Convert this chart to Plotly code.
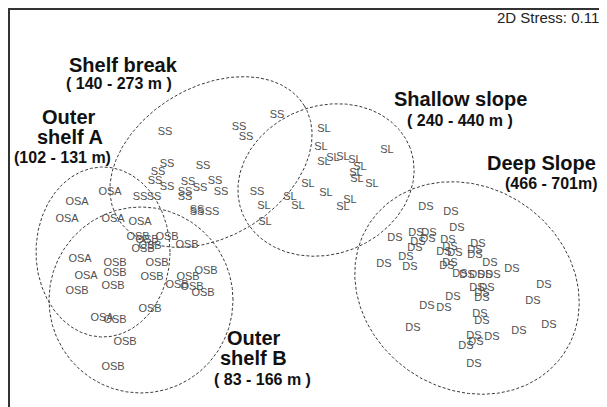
import numpy as np
import plotly.graph_objects as go

# ---- sample positions (NMDS ordination) ----
osa_x = [110, 77, 67, 113, 140, 80, 86, 102]
osa_y = [192, 202, 219, 219, 222, 259, 276, 318]

osb_x = [138, 147, 150, 143, 167, 187, 115, 115, 113, 77, 157, 152, 150, 115, 125, 113, 206, 188, 177, 192, 203]
osb_y = [237, 240, 246, 249, 237, 245, 263, 273, 286, 291, 263, 277, 309, 320, 342, 367, 271, 277, 285, 287, 293]

ss_x = [165, 239, 246, 277, 167, 158, 155, 167, 203, 188, 200, 185, 185, 215, 221, 140, 154, 197, 197, 212, 257]
ss_y = [132, 127, 137, 115, 164, 172, 181, 187, 166, 182, 188, 192, 197, 181, 192, 197, 197, 210, 212, 212, 192]

sl_x = [324, 321, 324, 333, 343, 355, 360, 356, 357, 372, 387, 308, 326, 290, 298, 350, 343, 264, 265]
sl_y = [129, 147, 162, 158, 157, 160, 167, 173, 179, 184, 150, 184, 193, 197, 206, 200, 207, 206, 222]

ds_x = [426, 451, 457, 395, 416, 429, 418, 428, 415, 406, 410, 384, 448, 450, 444, 455, 478, 475, 475, 490,
        512, 450, 447, 460, 467, 477, 485, 493, 477, 487, 482, 482, 453, 427, 444, 544, 533, 480, 482, 413,
        519, 549, 474, 476, 492, 466, 474]
ds_y = [207, 212, 228, 238, 233, 233, 242, 239, 248, 257, 267, 264, 240, 247, 252, 253, 244, 250, 255, 263,
        269, 263, 266, 274, 275, 275, 275, 275, 288, 288, 293, 298, 297, 306, 308, 285, 301, 314, 321, 328,
        331, 325, 336, 342, 337, 346, 364]

groups = [
    ("OSA", osa_x, osa_y),
    ("OSB", osb_x, osb_y),
    ("SS", ss_x, ss_y),
    ("SL", sl_x, sl_y),
    ("DS", ds_x, ds_y),
]

# ---- group ellipses: centre, semi-axes, tilt (deg) ----
ell_names = ["OSA", "OSB", "SS", "SL", "DS"]
ell_cx = [103, 141, 211, 326, 467]
ell_cy = [252, 300, 162, 180, 288]
ell_a = [67, 92, 109, 90, 117]
ell_b = [85, 93, 75, 74, 101]
ell_ang = [0, 0, 31, 21, -34]

# ---- group labels ----
lab_text = ["Shelf break", "( 140 - 273 m )", "Outer", "shelf A", "(102 - 131 m)",
            "Shallow slope", "( 240 - 440 m )", "Deep Slope", "(466 - 701m)",
            "Outer", "shelf B", "( 83 - 166 m )"]
lab_x = [123, 119, 69, 70, 62, 460, 460, 541, 551, 254, 253, 262]
lab_y = [65, 83, 117, 137, 157, 99, 120, 163, 183, 338, 358, 379]
lab_size = [20, 16, 20, 20, 16, 20, 16, 20, 16, 20, 20, 16]

stress_text = "2D Stress: 0.11"

FONT = "Liberation Sans, Arial, sans-serif"

fig = go.Figure()

t = np.linspace(0, 2 * np.pi, 361)
for cx, cy, a, b, ang in zip(ell_cx, ell_cy, ell_a, ell_b, ell_ang):
    th = np.deg2rad(ang)
    ex = cx + a * np.cos(t) * np.cos(th) - b * np.sin(t) * np.sin(th)
    ey = cy - (a * np.cos(t) * np.sin(th) + b * np.sin(t) * np.cos(th))
    fig.add_trace(go.Scatter(x=ex, y=ey, mode="lines",
                             line=dict(color="#3a3a3a", width=1, dash="3px,2px"),
                             hoverinfo="skip", showlegend=False))

for name, xs, ys in groups:
    fig.add_trace(go.Scatter(x=xs, y=ys, mode="text", text=[name] * len(xs),
                             textposition="middle center",
                             textfont=dict(family=FONT, size=11, color="#505050"),
                             name=name, showlegend=False))

for txt, x, y, s in zip(lab_text, lab_x, lab_y, lab_size):
    fig.add_annotation(x=x, y=y, text="<b>" + txt + "</b>", showarrow=False,
                       xanchor="center", yanchor="middle",
                       font=dict(family=FONT, size=s, color="#111111"))

fig.add_annotation(x=601, y=17, text=stress_text, showarrow=False,
                   xanchor="right", yanchor="middle",
                   font=dict(family=FONT, size=15, color="#222222"))

# page body has an 8px margin; offset margins so data units equal page pixels
fig.update_layout(
    width=607, height=407,
    margin=dict(l=2, r=8, t=2, b=8),
    paper_bgcolor="white", plot_bgcolor="white",
    xaxis=dict(range=[10, 607], side="top", showline=True, linecolor="#333333", linewidth=2,
               showgrid=False, zeroline=False, showticklabels=False, ticks=""),
    yaxis=dict(range=[407, 10], showline=True, linecolor="#333333", linewidth=2,
               showgrid=False, zeroline=False, showticklabels=False, ticks=""),
)

fig.write_html("out.html")
